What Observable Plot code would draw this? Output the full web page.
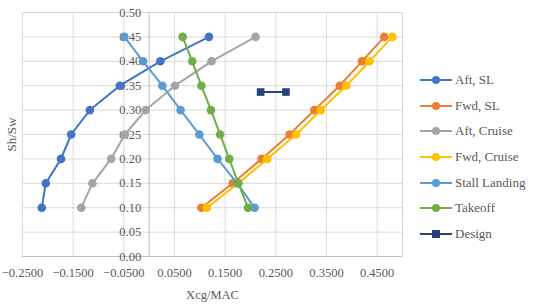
<!DOCTYPE html>
<html>
<head>
<meta charset="utf-8">
<script src="https://cdn.jsdelivr.net/npm/d3@7"></script>
<script src="https://cdn.jsdelivr.net/npm/@observablehq/plot@0.6"></script>
<style>
  html, body { margin: 0; padding: 0; background: #fff; }
  #wrap { position: relative; width: 535px; height: 304px; font-family: 'Liberation Serif', serif; }
  #legend { position: absolute; left: 420px; top: 67px; font-size: 13px; color: #595959; font-family: 'Liberation Serif', serif; }
  .item { display: flex; align-items: center; height: 25.7px; }
  .item svg { margin-right: 3px; }
  svg text { font-family: 'Liberation Serif', serif; }
</style>
</head>
<body>
<div id="wrap"><div id="chart"></div><div id="legend"></div></div>
<script>
const shRatio = [0.10, 0.15, 0.20, 0.25, 0.30, 0.35, 0.40, 0.45];
const aftSL = [-0.212, -0.204, -0.174, -0.154, -0.117, -0.058, 0.022, 0.118];
const fwdSL = [0.103, 0.165, 0.222, 0.277, 0.326, 0.376, 0.420, 0.464];
const aftCruise = [-0.134, -0.112, -0.075, -0.048, -0.007, 0.051, 0.123, 0.210];
const fwdCruise = [0.114, 0.176, 0.233, 0.290, 0.339, 0.389, 0.435, 0.480];
const stallLanding = [0.208, 0.174, 0.135, 0.099, 0.062, 0.026, -0.012, -0.049];
const takeoff = [0.195, 0.176, 0.158, 0.140, 0.122, 0.103, 0.085, 0.066];
const designX = [0.220, 0.270];
const designY = [0.337, 0.337];

const seriesNames = ["Aft, SL", "Fwd, SL", "Aft, Cruise", "Fwd, Cruise", "Stall Landing", "Takeoff", "Design"];
const seriesColors = ["#4472C4", "#ED7D31", "#A5A5A5", "#FFC000", "#5B9BD5", "#70AD47", "#264478"];
const xTicks = [-0.25, -0.15, -0.05, 0.05, 0.15, 0.25, 0.35, 0.45];
const yTicks = [0, 0.05, 0.10, 0.15, 0.20, 0.25, 0.30, 0.35, 0.40, 0.45, 0.50];

const seriesX = [aftSL, fwdSL, aftCruise, fwdCruise, stallLanding, takeoff, designX];
const seriesY = [shRatio, shRatio, shRatio, shRatio, shRatio, shRatio, designY];

const rows = [];
seriesNames.forEach((name, i) => {
  seriesX[i].forEach((x, j) => rows.push({series: name, x, y: seriesY[i][j]}));
});

const marks = [
  Plot.gridX(xTicks.concat([0.5]), {stroke: "#d9d9d9", strokeOpacity: 1}),
  Plot.gridY(yTicks, {stroke: "#d9d9d9", strokeOpacity: 1}),
  Plot.ruleX([0], {stroke: "#bfbfbf"}),
  Plot.ruleY([0], {stroke: "#bfbfbf"}),
  Plot.axisX(xTicks, {tickSize: 0, tickPadding: 12, tickFormat: d3.format(".4f"), label: "Xcg/MAC", labelAnchor: "center", labelArrow: "none", labelOffset: 42, fontSize: 12.5, color: "#595959"}),
  Plot.axisY({ticks: [], label: "Sh/Sw", labelAnchor: "center", labelArrow: "none", labelOffset: 16, fontSize: 13, color: "#595959"}),
  Plot.text(yTicks, {x: 0, y: d => d, text: d => d3.format(".2f")(d), textAnchor: "end", dx: -8, fill: "#595959", fontSize: 12.5})
];
seriesNames.forEach((name, i) => {
  const data = rows.filter(r => r.series === name);
  marks.push(Plot.line(data, {x: "x", y: "y", stroke: seriesColors[i], strokeWidth: 2}));
  marks.push(Plot.dot(data, {x: "x", y: "y", fill: seriesColors[i], r: 4.3, symbol: name === "Design" ? "square" : "circle"}));
});

const chart = Plot.plot({
  width: 535,
  height: 304,
  marginLeft: 22,
  marginRight: 133,
  marginTop: 12,
  marginBottom: 48,
  style: {fontFamily: "'Liberation Serif', serif", background: "#fff", overflow: "visible"},
  x: {domain: [-0.25, 0.5], label: null},
  y: {domain: [0, 0.5], label: null},
  marks
});
document.getElementById("chart").appendChild(chart);

const legend = document.getElementById("legend");
seriesNames.forEach((name, i) => {
  const item = document.createElement("div");
  item.className = "item";
  const marker = name === "Design"
    ? `<rect x="12" y="4" width="8" height="8" fill="${seriesColors[i]}"/>`
    : `<circle cx="16" cy="8" r="4" fill="${seriesColors[i]}"/>`;
  item.innerHTML = `<svg width="32" height="16"><line x1="0" x2="32" y1="8" y2="8" stroke="${seriesColors[i]}" stroke-width="2"/>${marker}</svg><span>${name}</span>`;
  legend.appendChild(item);
});
</script>
</body>
</html>
